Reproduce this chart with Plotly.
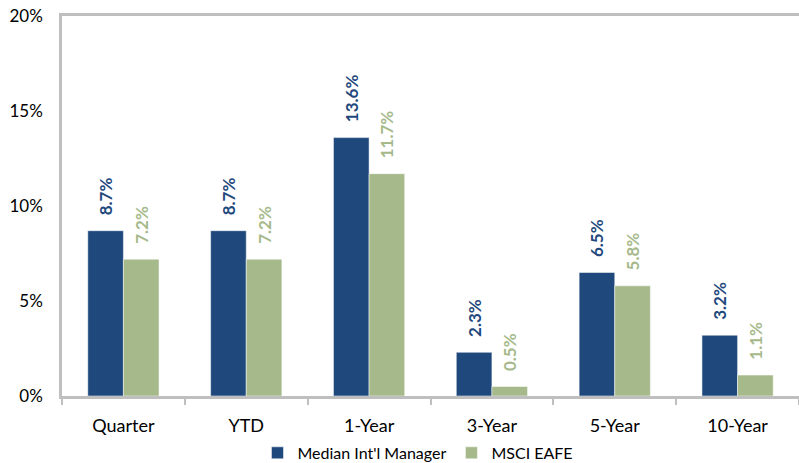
import plotly.graph_objects as go

categories = ["Quarter", "YTD", "1-Year", "3-Year", "5-Year", "10-Year"]
median_mgr = [8.7, 8.7, 13.6, 2.3, 6.5, 3.2]
msci_eafe = [7.2, 7.2, 11.7, 0.5, 5.8, 1.1]
series_names = ["Median Int'l Manager", "MSCI EAFE"]
tick_vals = [0, 5, 10, 15, 20]
tick_text = ["0%", "5%", "10%", "15%", "20%"]

BLUE = "#1F497D"
GREEN = "#A6B98B"
FONT = "Lato, 'Liberation Sans', sans-serif"

fig = go.Figure()
for name, vals, col in [(series_names[0], median_mgr, BLUE), (series_names[1], msci_eafe, GREEN)]:
    fig.add_trace(go.Bar(
        x=categories, y=vals, name=name,
        marker=dict(color=col, line=dict(color="white", width=0.5)),
        text=[f"\u00a0\u00a0\u00a0{v:.1f}%" for v in vals],
        textposition="outside", textangle=-90,
        textfont=dict(color=col, size=17, family=FONT, weight="bold"),
        constraintext="none", cliponaxis=False,
    ))

fig.update_layout(
    width=799, height=463,
    margin=dict(l=62, r=0, t=16, b=67, autoexpand=False),
    paper_bgcolor="white", plot_bgcolor="white",
    barmode="group", bargap=0.42, bargroupgap=0,
    font=dict(family=FONT, size=17, color="#000000"),
    showlegend=True,
    legend=dict(orientation="h", x=0.483, xanchor="center", y=-0.105, yanchor="top",
                font=dict(size=16), itemwidth=30, traceorder="normal"),
    xaxis=dict(showline=True, linecolor="#BFBFBF", linewidth=2.5, mirror=True,
               ticks="outside", tickson="boundaries", ticklen=6, tickcolor="#BFBFBF",
               tickwidth=1.5, showgrid=False, tickfont=dict(size=18),
               automargin=False, ticklabelstandoff=12),
    yaxis=dict(range=[0, 20], tickvals=tick_vals, ticktext=tick_text,
               showline=True, linecolor="#BFBFBF", linewidth=2.5,
               showgrid=False, zeroline=False, ticks="", ticklabelstandoff=13,
               tickfont=dict(size=17), automargin=False),
)

css = (
    "var s=document.createElement('style');"
    "s.textContent='html,body{margin:0;padding:0;overflow:hidden;width:799px;height:463px;}';"
    "document.head.appendChild(s);"
)
fig.write_html("out.html", config={"displayModeBar": False}, post_script=css)
